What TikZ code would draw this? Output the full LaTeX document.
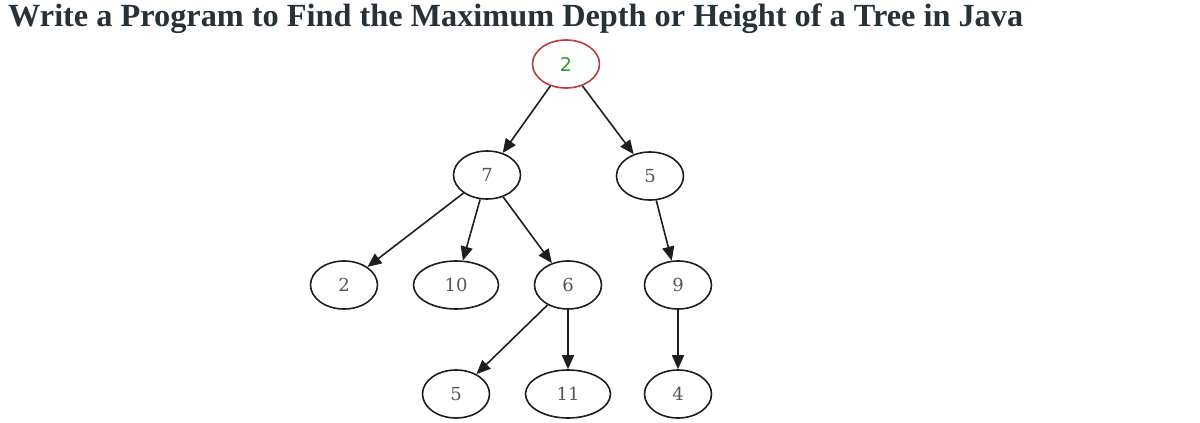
\documentclass[tikz,border=0pt]{standalone}
\usepackage{fontspec}
\setmainfont{Liberation Serif}
\newfontfamily\nodefont{DejaVu Serif}
\newfontfamily\rootfont{DejaVu Sans}
\usetikzlibrary{shapes.geometric,arrows.meta}
\definecolor{titlecol}{HTML}{263238}
\definecolor{rootred}{HTML}{C0393B}
\definecolor{rootgreen}{HTML}{2E9B2E}
\definecolor{labelgray}{HTML}{555555}
\definecolor{edgegray}{HTML}{1E1E1E}
\begin{document}
\begin{tikzpicture}[
	x=1pt, y=-1pt,
	vertex/.style={ ellipse, draw=edgegray, line width=1.6pt, inner sep=0pt, minimum width=67pt, minimum height=48pt, text=labelgray, font=\nodefont\fontsize{18}{18}\selectfont },
	vertexw/.style={ vertex, minimum width=85pt },
	vertexr/.style={ vertex, draw=rootred, text=rootgreen, font=\rootfont\fontsize{19}{19}\selectfont },
	edge/.style={ draw=edgegray, line width=1.6pt, -{Triangle[length=14pt,width=12pt]} }
]
\useasboundingbox (0,0) rectangle (1200,423);

\node[anchor=base west, text=titlecol, font=\bfseries\fontsize{32.3}{32.3}\selectfont, inner sep=0pt] at (8,26) (title) {Write a Program to Find the Maximum Depth or Height of a Tree in Java};

\node[vertexr] at (566,64) (v1) {2};

\node[vertex] at (487,175) (v2) {7};
\draw[edge] (v1) to (v2);
\node[vertex] at (650,176) (v3) {5};
\draw[edge] (v1) to (v3);

\node[vertex] at (344,285) (v4) {2};
\draw[edge] (v2) to (v4);
\node[vertexw] at (456,285) (v5) {10};
\draw[edge] (v2) to (v5);
\node[vertex] at (568,285) (v6) {6};
\draw[edge] (v2) to (v6);
\node[vertex] at (678,285) (v7) {9};
\draw[edge] (v3) to (v7);

\node[vertex] at (456,394) (v8) {5};
\draw[edge] (v6) to (v8);
\node[vertexw] at (568,394) (v9) {11};
\draw[edge] (v6) to (v9);
\node[vertex] at (678,394) (v10) {4};
\draw[edge] (v7) to (v10);

\end{tikzpicture}
\end{document}
